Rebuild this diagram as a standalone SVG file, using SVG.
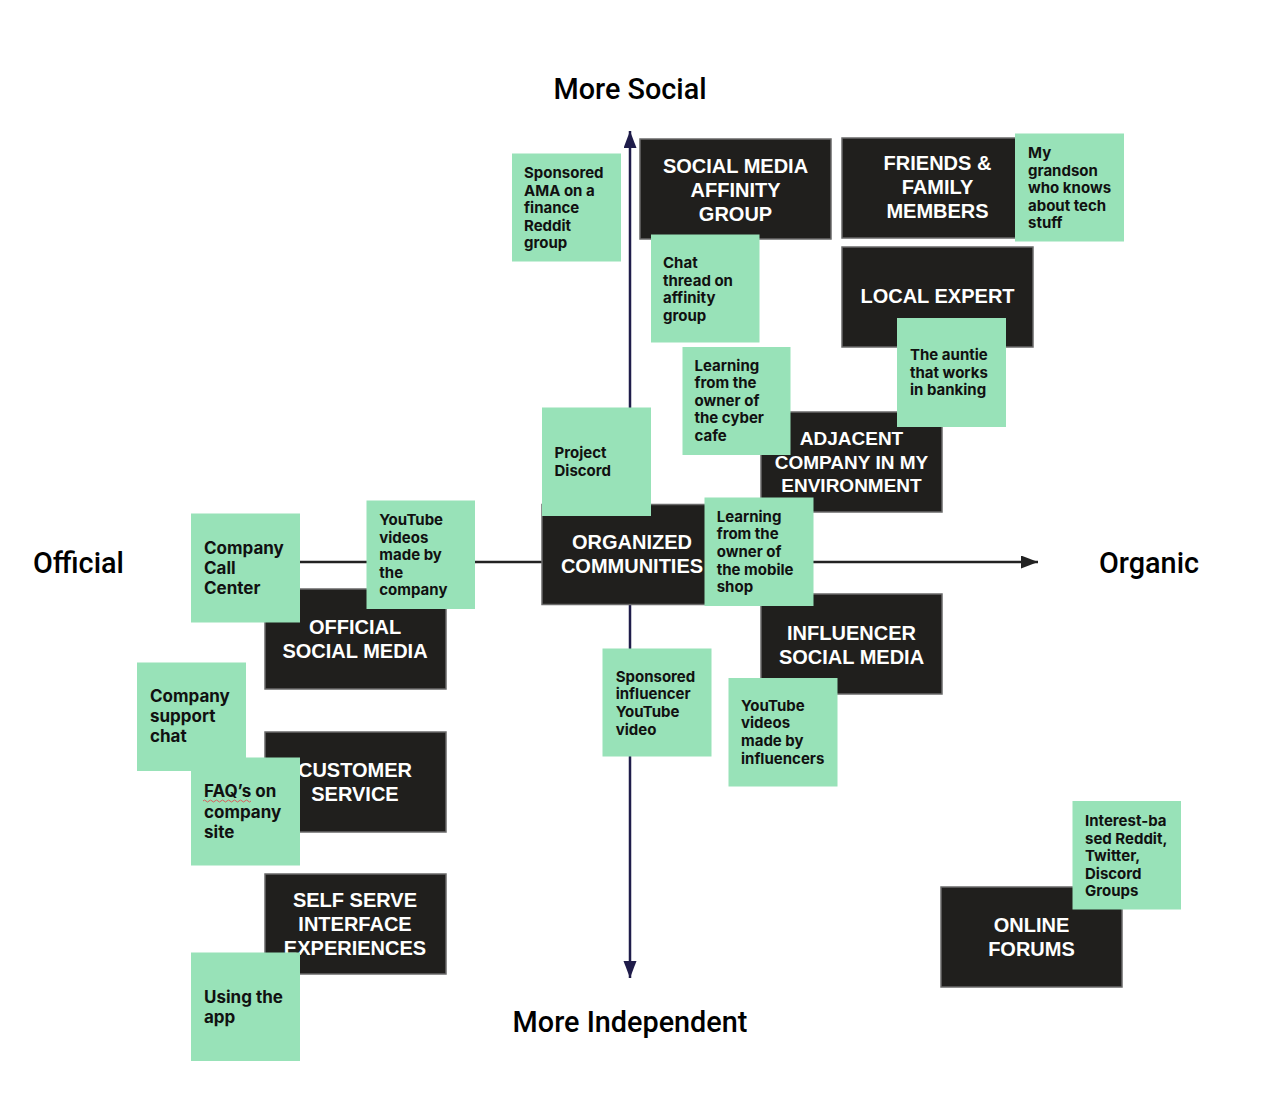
<svg xmlns="http://www.w3.org/2000/svg" width="1264" height="1102" viewBox="0 0 1264 1102">
<style>
.box{fill:#201f1d;stroke:#6a6a6a;stroke-width:1.5}
.bt{font-family:"Liberation Sans",Arial,sans-serif;font-weight:700;font-size:20px;fill:#ffffff;text-anchor:middle}
.st{fill:#98e2b8}
.stt{font-family:Inter,"Noto Sans",sans-serif;font-weight:700;font-size:15px;fill:#111111}
.stl{font-size:17px}
.ax{font-family:Roboto,"Liberation Sans",sans-serif;font-weight:500;font-size:28.8px;fill:#000000}
</style>
<defs>
<marker id="arrNavy" markerUnits="userSpaceOnUse" markerWidth="18" markerHeight="14" refX="17" refY="6.5" orient="auto">
<path d="M0,0 L17,6.5 L0,13 z" fill="#1f1c4a"/>
</marker>
<marker id="arrBlack" markerUnits="userSpaceOnUse" markerWidth="18" markerHeight="14" refX="17" refY="6.5" orient="auto">
<path d="M0,0 L17,6.5 L0,13 z" fill="#222222"/>
</marker>
</defs>
<rect width="1264" height="1102" fill="#ffffff"/>

<g id="connectors">
<line x1="630" y1="562" x2="630" y2="131" stroke="#1f1c4a" stroke-width="2.5" marker-end="url(#arrNavy)"/>
<line x1="630" y1="562" x2="630" y2="978" stroke="#1f1c4a" stroke-width="2.5" marker-end="url(#arrNavy)"/>
<line x1="200" y1="562" x2="1038" y2="562" stroke="#222222" stroke-width="2.5" marker-end="url(#arrBlack)"/>
</g>

<g id="axis-labels">
<text class="ax" x="630" y="99" text-anchor="middle">More Social</text>
<text class="ax" x="630" y="1032" text-anchor="middle">More Independent</text>
<text class="ax" x="33" y="573">Official</text>
<text class="ax" x="1099" y="573">Organic</text>
</g>

<g id="box-social-media-affinity">
<rect class="box" x="640" y="139" width="191" height="100"/>
<text class="bt" x="735.5" y="173">SOCIAL MEDIA</text>
<text class="bt" x="735.5" y="197">AFFINITY</text>
<text class="bt" x="735.5" y="221">GROUP</text>
</g>
<g id="box-friends-family">
<rect class="box" x="842" y="138" width="191" height="100"/>
<text class="bt" x="937.5" y="170">FRIENDS &amp;</text>
<text class="bt" x="937.5" y="194">FAMILY</text>
<text class="bt" x="937.5" y="218">MEMBERS</text>
</g>
<g id="box-local-expert">
<rect class="box" x="842" y="247" width="191" height="100"/>
<text class="bt" x="937.5" y="303">LOCAL EXPERT</text>
</g>
<g id="box-adjacent-company">
<rect class="box" x="761" y="412" width="181" height="100"/>
<text class="bt" x="851.5" y="445" style="font-size:19px">ADJACENT</text>
<text class="bt" x="851.5" y="468.5" style="font-size:19px">COMPANY IN MY</text>
<text class="bt" x="851.5" y="492" style="font-size:19px">ENVIRONMENT</text>
</g>
<g id="box-organized-communities">
<rect class="box" x="542" y="504.5" width="181" height="100"/>
<text class="bt" x="632" y="549">ORGANIZED</text>
<text class="bt" x="632" y="573">COMMUNITIES</text>
</g>
<g id="box-official-social-media">
<rect class="box" x="265" y="589" width="181" height="100"/>
<text class="bt" x="355" y="634">OFFICIAL</text>
<text class="bt" x="355" y="658">SOCIAL MEDIA</text>
</g>
<g id="box-influencer-social-media">
<rect class="box" x="761" y="594" width="181" height="100"/>
<text class="bt" x="851.5" y="640">INFLUENCER</text>
<text class="bt" x="851.5" y="664">SOCIAL MEDIA</text>
</g>
<g id="box-customer-service">
<rect class="box" x="265" y="732" width="181" height="100"/>
<text class="bt" x="355" y="777">CUSTOMER</text>
<text class="bt" x="355" y="801">SERVICE</text>
</g>
<g id="box-self-serve">
<rect class="box" x="265" y="874" width="181" height="100"/>
<text class="bt" x="355" y="907">SELF SERVE</text>
<text class="bt" x="355" y="931">INTERFACE</text>
<text class="bt" x="355" y="955">EXPERIENCES</text>
</g>
<g id="box-online-forums">
<rect class="box" x="941" y="887" width="181" height="100"/>
<text class="bt" x="1031.5" y="932">ONLINE</text>
<text class="bt" x="1031.5" y="956">FORUMS</text>
</g>

<g id="note-sponsored-ama">
<rect class="st" x="512" y="153.5" width="109" height="108"/>
<text class="stt" x="524" y="178">Sponsored</text>
<text class="stt" x="524" y="195.6">AMA on a</text>
<text class="stt" x="524" y="213.2">finance</text>
<text class="stt" x="524" y="230.8">Reddit</text>
<text class="stt" x="524" y="248.4">group</text>
</g>
<g id="note-chat-thread">
<rect class="st" x="651" y="234.5" width="108.5" height="108"/>
<text class="stt" x="663" y="268">Chat</text>
<text class="stt" x="663" y="285.6">thread on</text>
<text class="stt" x="663" y="303.2">affinity</text>
<text class="stt" x="663" y="320.8">group</text>
</g>
<g id="note-grandson">
<rect class="st" x="1015" y="133.5" width="109" height="108"/>
<text class="stt" x="1028" y="158">My</text>
<text class="stt" x="1028" y="175.6">grandson</text>
<text class="stt" x="1028" y="193.2">who knows</text>
<text class="stt" x="1028" y="210.8">about tech</text>
<text class="stt" x="1028" y="228.4">stuff</text>
</g>
<g id="note-auntie">
<rect class="st" x="897" y="318" width="109" height="109"/>
<text class="stt" x="910" y="360">The auntie</text>
<text class="stt" x="910" y="377.6">that works</text>
<text class="stt" x="910" y="395.2">in banking</text>
</g>
<g id="note-cyber-cafe">
<rect class="st" x="682.5" y="347" width="108" height="108"/>
<text class="stt" x="694.5" y="370.5">Learning</text>
<text class="stt" x="694.5" y="388.1">from the</text>
<text class="stt" x="694.5" y="405.7">owner of</text>
<text class="stt" x="694.5" y="423.3">the cyber</text>
<text class="stt" x="694.5" y="440.9">cafe</text>
</g>
<g id="note-project-discord">
<rect class="st" x="542" y="407.5" width="109" height="108.5"/>
<text class="stt" x="554.5" y="458.3">Project</text>
<text class="stt" x="554.5" y="476">Discord</text>
</g>
<g id="note-mobile-shop">
<rect class="st" x="704.5" y="497.5" width="109" height="108.5"/>
<text class="stt" x="716.7" y="521.7">Learning</text>
<text class="stt" x="716.7" y="539.3">from the</text>
<text class="stt" x="716.7" y="556.9">owner of</text>
<text class="stt" x="716.7" y="574.5">the mobile</text>
<text class="stt" x="716.7" y="592.1">shop</text>
</g>
<g id="note-youtube-company">
<rect class="st" x="366.5" y="500.5" width="108.5" height="108.5"/>
<text class="stt" x="379.3" y="525">YouTube</text>
<text class="stt" x="379.3" y="542.6">videos</text>
<text class="stt" x="379.3" y="560.2">made by</text>
<text class="stt" x="379.3" y="577.8">the</text>
<text class="stt" x="379.3" y="595.4">company</text>
</g>
<g id="note-call-center">
<rect class="st" x="191" y="513.5" width="109" height="109"/>
<text class="stt stl" x="204" y="554.3">Company</text>
<text class="stt stl" x="204" y="574">Call</text>
<text class="stt stl" x="204" y="593.7">Center</text>
</g>
<g id="note-support-chat">
<rect class="st" x="137" y="662.5" width="109" height="108.5"/>
<text class="stt stl" x="150" y="702.3">Company</text>
<text class="stt stl" x="150" y="722.2">support</text>
<text class="stt stl" x="150" y="742">chat</text>
</g>
<g id="note-faq">
<rect class="st" x="191" y="757.5" width="109" height="108"/>
<text class="stt stl" x="204" y="797.3">FAQ’s on</text>
<path d="M203,801 q1.5,-2 3,0 t3,0 t3,0 t3,0 t3,0 t3,0 t3,0 t3,0 t3,0 t3,0 t3,0 t3,0 t3,0 t3,0 t3,0 t3,0" fill="none" stroke="#e05050" stroke-width="0.9"/>
<text class="stt stl" x="204" y="817.5">company</text>
<text class="stt stl" x="204" y="837.5">site</text>
</g>
<g id="note-using-app">
<rect class="st" x="191" y="952.5" width="109" height="108.5"/>
<text class="stt stl" x="204" y="1003.3">Using the</text>
<text class="stt stl" x="204" y="1023.3">app</text>
</g>
<g id="note-sponsored-influencer">
<rect class="st" x="602.5" y="648.5" width="109" height="108"/>
<text class="stt" x="615.7" y="681.7">Sponsored</text>
<text class="stt" x="615.7" y="699.3">influencer</text>
<text class="stt" x="615.7" y="716.9">YouTube</text>
<text class="stt" x="615.7" y="734.5">video</text>
</g>
<g id="note-youtube-influencers">
<rect class="st" x="728.5" y="678" width="109" height="108.5"/>
<text class="stt" x="741" y="710.7">YouTube</text>
<text class="stt" x="741" y="728.3">videos</text>
<text class="stt" x="741" y="745.9">made by</text>
<text class="stt" x="741" y="763.5">influencers</text>
</g>
<g id="note-interest-groups">
<rect class="st" x="1072.5" y="801" width="108.5" height="108.5"/>
<text class="stt" x="1085" y="826">Interest-ba</text>
<text class="stt" x="1085" y="843.6">sed Reddit,</text>
<text class="stt" x="1085" y="861.2">Twitter,</text>
<text class="stt" x="1085" y="878.8">Discord</text>
<text class="stt" x="1085" y="896.4">Groups</text>
</g>
</svg>
